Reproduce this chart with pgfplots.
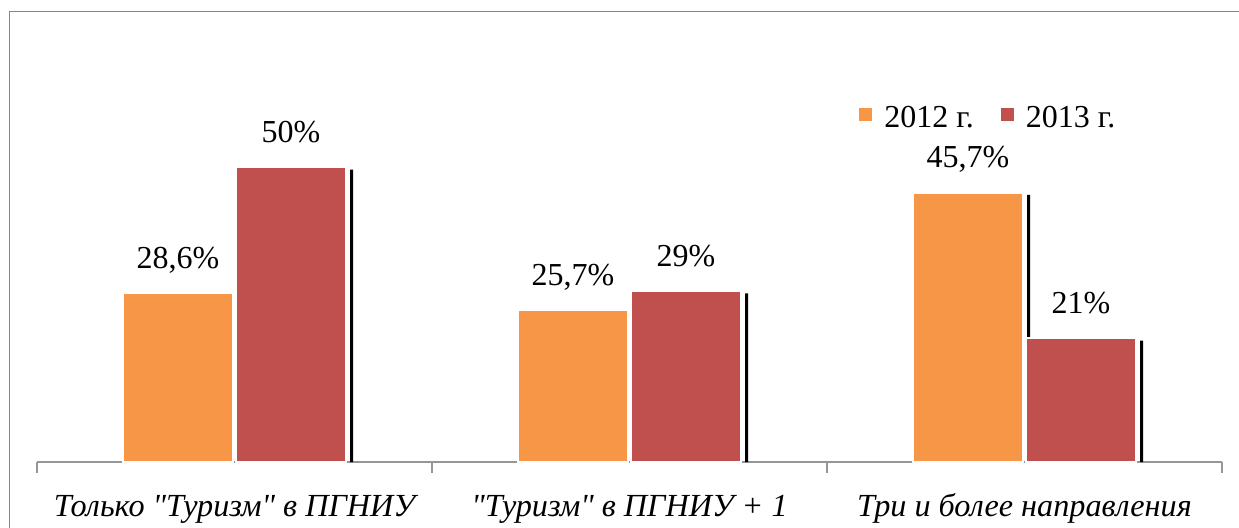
\documentclass[border=0pt]{standalone}
\usepackage{fontspec}
\setmainfont{Liberation Serif}[Ligatures=TeXOff]
\usepackage{pgfplots}
\pgfplotsset{compat=1.18}
\definecolor{c12}{HTML}{F79646}
\definecolor{c13}{HTML}{C0504D}
\definecolor{frame}{RGB}{134,134,134}
\definecolor{axgray}{RGB}{150,150,150}
\begin{document}
\begin{tikzpicture}
\useasboundingbox (0,0) rectangle (619.5pt,-263.5pt);
\clip (0,0) rectangle (619.5pt,-263.5pt);
\draw[frame, line width=0.7pt] (4.7pt,-300pt) -- (4.7pt,-5.8pt) -- (650pt,-5.8pt);
\begin{axis}[
  at={(18.5pt,-231pt)}, anchor=south west,
  width=592.5pt, height=176.9pt, scale only axis,
  xmin=-0.5, xmax=2.5, ymin=0, ymax=60,
  axis x line=bottom, axis y line=none,
  x axis line style={-, axgray, line width=0.6pt},
  xtick={0,1,2},
  xticklabels={{Только "Туризм" в ПГНИУ},{"Туризм" в ПГНИУ + 1},{Три и более направления}},
  major x tick style={draw=none},
  xticklabel style={font=\fontsize{16.1}{19}\selectfont\itshape, anchor=base, yshift=-23pt},
  extra x ticks={-0.5,0.5,1.5,2.5},
  extra x tick labels={},
  extra x tick style={major tick length=5.5pt, tick align=outside, major x tick style={draw=axgray, line width=0.6pt}},
  ybar,
  clip=false,
  legend columns=2,
  legend style={at={(0.6886,1.019)}, anchor=north west, draw=none, fill=none,
    font=\fontsize{16}{19}\selectfont, nodes={inner sep=0pt},
    /tikz/every odd column/.append style={column sep=6pt},
    /tikz/every even column/.append style={column sep=13.5pt}},
  legend image code/.code={\fill[#1, draw=none] (0pt,-1.6pt) rectangle (6.5pt,4.9pt);},
  every node near coord/.append style={font=\fontsize{16}{19}\selectfont, anchor=base, yshift=12.5pt},
  point meta=explicit symbolic,
]
% shadows
\addplot[fill=black, draw=none, bar width=1.5pt, bar shift=2pt, forget plot]
  coordinates {(0,28.2) (1,25.3) (2,45.3)};
\addplot[fill=black, draw=none, bar width=1.5pt, bar shift=58.5pt, forget plot]
  coordinates {(0,49.6) (1,28.6) (2,20.6)};
% bars
\addplot[fill=c12, draw=white, line width=1pt, bar width=55pt, bar shift=-28.25pt, nodes near coords]
  coordinates {(0,28.6) [28,6\%] (1,25.7) [25,7\%] (2,45.7) [45,7\%]};
\addlegendentry{2012 г.}
\addplot[fill=c13, draw=white, line width=1pt, bar width=55pt, bar shift=28.25pt, nodes near coords]
  coordinates {(0,50) [50\%] (1,29) [29\%] (2,21) [21\%]};
\addlegendentry{2013 г.}
\end{axis}
\end{tikzpicture}
\end{document}
